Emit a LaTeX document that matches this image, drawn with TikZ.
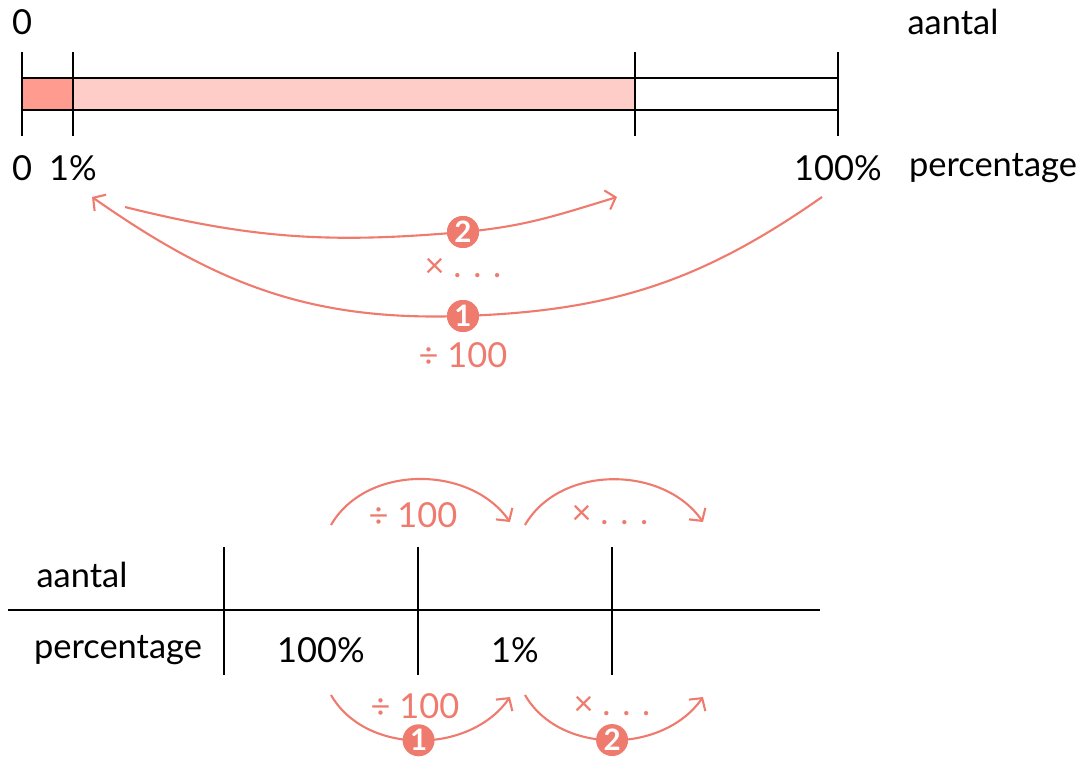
\documentclass[tikz,border=0pt]{standalone}
\usepackage{fontspec}
\setmainfont{Lato}
\usepackage{tikz}
\usetikzlibrary{arrows.meta,positioning}
\definecolor{salmon}{RGB}{239,123,110}
\definecolor{darkpink}{RGB}{255,156,143}
\definecolor{lightpink}{RGB}{255,205,199}

\begin{document}
\begin{tikzpicture}[
      lbl/.style={font=\fontsize{24.5}{28}\selectfont, text=black, inner sep=0pt},
      oplbl/.style={font=\fontsize{24.5}{28}\selectfont, text=salmon, inner sep=0pt},
      badge/.style={circle, fill=salmon, text=white, minimum size=0.8cm, inner sep=0pt, font=\fontsize{21}{24}\selectfont\bfseries},
      bar/.style={line width=1.6pt, color=black},
      arr/.style={-{Straight Barb[length=2.2mm,width=5mm]}, line width=1.5pt, color=salmon}
    ]
      \useasboundingbox (0,0) rectangle (27.15,-19.1);
      % bar
      \fill[darkpink] (0.55,-1.95) rectangle (1.825,-2.75);
      \fill[lightpink] (1.825,-1.95) rectangle (15.875,-2.75);
      \draw[bar] (0.55,-1.95) -- (20.95,-1.95);
      \draw[bar] (0.55,-2.75) -- (20.95,-2.75);
      \foreach \x in {0.55,1.825,15.875,20.95}
        \draw[bar] (\x,-1.3) -- (\x,-3.4);
      \node[lbl] (zeroA) at (0.55,-0.55) {0};
      \node[lbl] (aantalA) at (23.825,-0.55) {aantal};
      \node[lbl] (zeroP) at (0.55,-4.2) {0};
      \node[lbl] (oneP) at (1.825,-4.2) {1\%};
      \node[lbl] (hundredP) at (20.95,-4.2) {100\%};
      \node[lbl] (percP) at (24.825,-4.2) {percentage};
      % arrows under the bar
      \coordinate (s2) at (3.125,-5.175);
      \coordinate (e2) at (15.425,-4.925);
      \coordinate (s1) at (20.55,-4.925);
      \coordinate (e1) at (2.3,-4.925);
      \node[badge] (b2) at (11.575,-5.8) {2};
      \node[badge] (b1) at (11.575,-7.9) {1};
      \draw[arr] (s2) to[out=-14,in=185] (b2.center) to[out=5,in=197] (e2);
      \draw[arr] (s1) to[out=215,in=2] (b1.center) to[out=182,in=-35] (e1);
      \node[badge] at (b2) {2};
      \node[badge] at (b1) {1};
      \node[oplbl, below=0.65cm of b2.center] (times2) {× . . .};
      \node[oplbl, below=0.65cm of b1.center] (div1) {÷ 100};
      % table
      \draw[bar] (0.2,-15.25) -- (20.5,-15.25);
      \foreach \x in {5.6,10.45,15.3}
        \draw[bar] (\x,-13.675) -- (\x,-16.875);
      \node[lbl] (aantalT) at (2.05,-14.375) {aantal};
      \node[lbl] (percT) at (2.95,-16.25) {percentage};
      \node[lbl] (hundredT) at (8.025,-16.25) {100\%};
      \node[lbl] (oneT) at (12.875,-16.25) {1\%};
      \coordinate (ta1) at (8.275,-13.125);
      \coordinate (ta2) at (12.75,-13.05);
      \coordinate (tb1) at (13.125,-13.125);
      \coordinate (tb2) at (17.575,-13.05);
      \coordinate (ba1) at (8.275,-17.375);
      \coordinate (ba2) at (12.75,-17.425);
      \coordinate (bb1) at (13.125,-17.375);
      \coordinate (bb2) at (17.575,-17.425);
      \draw[arr] (ta1) to[out=60,in=125] (ta2);
      \draw[arr] (tb1) to[out=60,in=125] (tb2);
      \draw[arr] (ba1) to[out=-60,in=-125] node[badge,pos=0.5] (c1) {1} (ba2);
      \draw[arr] (bb1) to[out=-60,in=-125] node[badge,pos=0.5] (c2) {2} (bb2);
      \node[oplbl] (divT) at (10.325,-12.875) {÷ 100};
      \node[oplbl] (timesT) at (15.25,-12.875) {× . . .};
      \node[oplbl] (divB) at (10.375,-17.65) {÷ 100};
      \node[oplbl] (timesB) at (15.3,-17.65) {× . . .};
    \end{tikzpicture}
\end{document}
